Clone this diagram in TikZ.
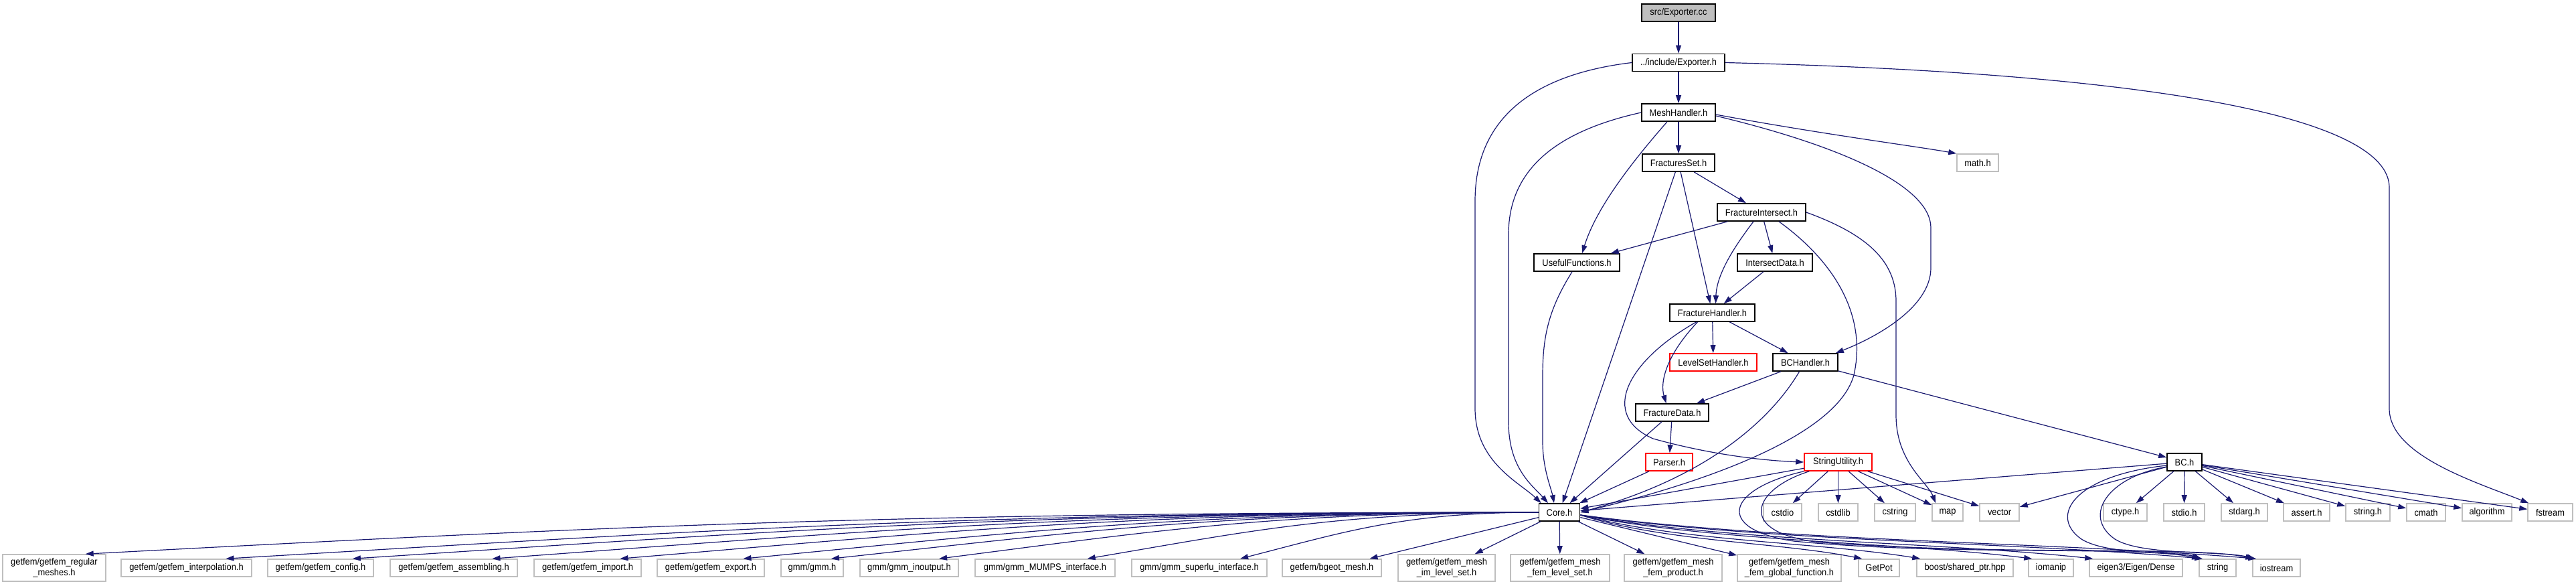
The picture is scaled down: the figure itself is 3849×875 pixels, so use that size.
\documentclass[tikz,border=0pt]{standalone}
\usepackage{fontspec}
\setmainfont{Liberation Sans}[FakeStretch=0.92]
\usetikzlibrary{calc}
\usetikzlibrary{arrows.meta}

\definecolor{edgeblue}{HTML}{191970}
\definecolor{sysgray}{HTML}{BFBFBF}

\begin{document}
\begin{tikzpicture}[x=1pt, y=-1pt,
  every node/.style={font=\fontsize{14}{15.5}\selectfont, inner sep=0pt, align=center},
  hdr/.style={draw=black, line width=1.6pt, fill=white, minimum height=26pt},
  srcfile/.style={hdr, fill=sysgray},
  trunc/.style={hdr, draw=red},
  sys/.style={draw=sysgray, line width=1.6pt, fill=white, minimum height=26pt},
  systwo/.style={sys, minimum height=40pt},
  dep/.style={draw=edgeblue, line width=1.2pt, -{Triangle[length=12pt,width=8pt]}}]
\def\ymid{765}
\def\ybot{848}

\useasboundingbox (0,0) rectangle (3849,875);

\node[srcfile, minimum width=110pt] (excc) at (2508,19) {src/Exporter.cc};
\node[hdr, minimum width=138pt] (exph) at (2508,93.5) {../include/Exporter.h};
\node[hdr, minimum width=110pt] (mesh) at (2508,168) {MeshHandler.h};
\node[hdr, minimum width=108pt] (fset) at (2508,243) {FracturesSet.h};
\node[sys, minimum width=62pt] (math) at (2955,243) {math.h};
\node[hdr, minimum width=132pt] (fint) at (2632,317) {FractureIntersect.h};
\node[hdr, minimum width=128pt] (useful) at (2356,392) {UsefulFunctions.h};
\node[hdr, minimum width=112pt] (idata) at (2652,392) {IntersectData.h};
\node[hdr, minimum width=127pt] (fhand) at (2558.5,467) {FractureHandler.h};
\node[trunc, minimum width=130pt] (lset) at (2560,541) {LevelSetHandler.h};
\node[hdr, minimum width=97pt] (bchand) at (2697.5,541) {BCHandler.h};
\node[hdr, minimum width=109pt] (fdata) at (2498.5,616) {FractureData.h};
\node[trunc, minimum width=70pt] (parser) at (2494,690) {Parser.h};
\node[trunc, minimum width=101pt] (strutil) at (2746.5,690) {StringUtility.h};
\node[hdr, minimum width=52pt] (bc) at (3264,690) {BC.h};
\node[hdr, minimum width=61pt] (core) at (2330,\ymid) {Core.h};

\foreach \nm/\cx/\w/\txt in {cstdio/2663.5/57/cstdio, cstdlib/2746.5/59/cstdlib,
    cstring/2831.5/61/cstring, map/2910/46/map, vector/2987.5/59/vector,
    ctypeh/3175.5/65/ctype.h, stdioh/3263.5/61/stdio.h, stdargh/3353.5/69/stdarg.h,
    asserth/3446.5/69/assert.h, stringh/3538/66/string.h, cmath/3625/58/cmath,
    algorithm/3716/74/algorithm, fstream/3810.5/67/fstream} {
  \node[sys, minimum width=\w pt] (\nm) at (\cx,\ymid) {\txt};
}

\foreach \nm/\st/\cx/\w/\txt in {
    rm/systwo/81/154/{getfem/getfem\_regular\\\_meshes.h},
    interp/sys/278.5/195/{getfem/getfem\_interpolation.h},
    config/sys/479/158/{getfem/getfem\_config.h},
    assem/sys/678/190/{getfem/getfem\_assembling.h},
    import/sys/878/160/{getfem/getfem\_import.h},
    export/sys/1062/160/{getfem/getfem\_export.h},
    gmm/sys/1213.5/93/{gmm/gmm.h},
    inout/sys/1358.5/147/{gmm/gmm\_inoutput.h},
    mumps/sys/1561.5/209/{gmm/gmm\_MUMPS\_interface.h},
    superlu/sys/1792/202/{gmm/gmm\_superlu\_interface.h},
    bgeot/sys/1990/148/{getfem/bgeot\_mesh.h},
    imls/systwo/2161.5/145/{getfem/getfem\_mesh\\\_im\_level\_set.h},
    femls/systwo/2331/148/{getfem/getfem\_mesh\\\_fem\_level\_set.h},
    femprod/systwo/2500/146/{getfem/getfem\_mesh\\\_fem\_product.h},
    femglob/systwo/2673.5/155/{getfem/getfem\_mesh\\\_fem\_global\_function.h},
    getpot/sys/2807.5/61/{GetPot},
    boost/sys/2936/144/{boost/shared\_ptr.hpp},
    iomanip/sys/3064.5/67/{iomanip},
    eigen/sys/3191.5/139/{eigen3/Eigen/Dense},
    string/sys/3313.5/55/{string},
    iostream/sys/3401.5/71/{iostream}} {
  \node[\st, minimum width=\w pt] (\nm) at (\cx,\ybot) {\txt};
}

\draw[dep] (excc) -- (exph);
\draw[dep] (exph) -- (mesh);
\draw[dep] (exph.west) .. controls (2300,110) and (2204,170) .. (2204,300) -- (2204,610)
  .. controls (2204,690) and (2270,720) .. ($(core.north west)+(4,0)$);
\draw[dep] (exph.east) .. controls (3250,110) and (3570,180) .. (3570,280) -- (3570,610)
  .. controls (3570,680) and (3700,720) .. ($(fstream.north west)+(2,0)$);

\draw[dep] (mesh) -- (fset);
\draw[dep] (mesh.west) .. controls (2330,195) and (2254,250) .. (2254,350) -- (2254,630)
  .. controls (2254,700) and (2290,725) .. ($(core.north)+(-17,0)$);
\draw[dep] ($(mesh.south)+(-17,0)$) .. controls (2440,240) and (2385,310) .. ($(useful.north)+(8,0)$);
\draw[dep] ($(mesh.east)+(0,5)$) .. controls (2760,220) and (2885,280) .. (2885,340) -- (2885,400)
  .. controls (2885,460) and (2800,505) .. ($(bchand.north east)+(-4,0)$);
\draw[dep] ($(mesh.east)+(0,3)$) .. controls (2720,200) and (2860,218) .. (math.north west);

\draw[dep] (fset) -- (fint);
\draw[dep] (fset) -- (fhand);
\draw[dep] (fset) -- (core);

\draw[dep] (fint) -- (useful);
\draw[dep] (fint) -- (idata);
\draw[dep] ($(fint.south)+(-12,0)$) .. controls (2590,370) and (2565,410) .. ($(fhand.north)+(5,0)$);
\draw[dep] ($(fint.south)+(26,0)$) .. controls (2740,390) and (2790,470) .. (2770,560)
  .. controls (2745,650) and (2550,720) .. (core.east);
\draw[dep] (fint.east) .. controls (2790,350) and (2833,390) .. (2833,450) -- (2833,620)
  .. controls (2833,690) and (2880,720) .. ($(map.north west)+(6,0)$);

\draw[dep] (idata) -- (fhand);
\draw[dep] ($(useful.south)+(-7,0)$) .. controls (2315,460) and (2305,500) .. (2305,560) -- (2305,660)
  .. controls (2305,700) and (2318,730) .. ($(core.north)+(-8,0)$);

\draw[dep] (fhand) -- (lset);
\draw[dep] (fhand) -- (bchand);
\draw[dep] ($(fhand.south)+(-22,0)$) .. controls (2490,530) and (2480,570) .. ($(fdata.north)+(-9,0)$);
\draw[dep] ($(fhand.south)+(-24,0)$) .. controls (2430,540) and (2390,620) .. (2470,655)
  .. controls (2560,680) and (2640,688) .. (strutil.west);

\draw[dep] (bchand) -- (fdata);
\draw[dep] (bchand) -- (bc);
\draw[dep] ($(bchand.south)+(-9,0)$) .. controls (2650,620) and (2560,710) .. (core.east);

\draw[dep] (fdata) -- (parser);
\draw[dep] (fdata) -- (core);
\draw[dep] (parser) -- (core);

\draw[dep] (strutil) -- (core);
\foreach \nm in {cstdio, cstdlib, cstring, map, vector} {
  \draw[dep] (strutil) -- (\nm);
}
\draw[dep] (strutil.south west) .. controls (2580,730) and (2560,790) .. (2680,808)
  .. controls (2900,830) and (3200,815) .. ($(string.north west)+(2,0)$);
\draw[dep] ($(strutil.south west)+(8,0)$) .. controls (2620,730) and (2590,795) .. (2720,810)
  .. controls (3000,830) and (3280,815) .. ($(iostream.north west)+(2,0)$);

\foreach \nm in {core, vector, ctypeh, stdioh, stdargh, asserth, stringh, cmath, algorithm, fstream} {
  \draw[dep] (bc) -- (\nm);
}
\draw[dep] ($(bc.west)+(0,5)$) .. controls (3100,710) and (3060,770) .. (3110,805)
  .. controls (3150,830) and (3250,822) .. ($(string.north west)+(4,0)$);
\draw[dep] ($(bc.west)+(0,7)$) .. controls (3150,712) and (3110,770) .. (3160,805)
  .. controls (3200,830) and (3320,822) .. ($(iostream.north west)+(4,0)$);

\foreach \nm/\d in {rm/2172, interp/1962, config/1773, assem/1564, import/1373,
    export/1189, gmm/1058, inout/897, mumps/675, superlu/446} {
  \draw[dep] (core.west) .. controls +(-0.45*\d,0) and +(0.35*\d,-40) .. ($(\nm.north)!0.6!(\nm.north east)$);
}
\foreach \nm in {bgeot, imls, femls, femprod, femglob} {
  \draw[dep] (core) -- (\nm);
}
\foreach \nm/\d in {getpot/422, boost/509, iomanip/676, eigen/767, string/931, iostream/1011} {
  \draw[dep] ($(core.east)+(0,4)$) .. controls +(0.3*\d,40) and +(-0.3*\d,-25) .. ($(\nm.north west)+(6,0)$);
}
\end{tikzpicture}
\end{document}
